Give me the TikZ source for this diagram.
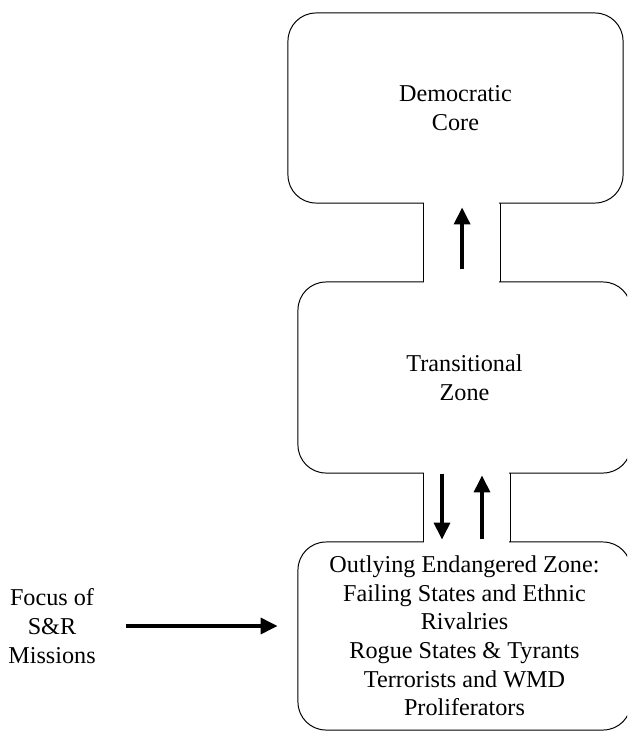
\documentclass[tikz,border=0pt]{standalone}
\usepackage{fontspec}
\setmainfont{Liberation Serif}
\usetikzlibrary{arrows.meta}

\begin{document}
\begin{tikzpicture}[x=0.025cm,y=-0.025cm,
    every node/.style={font=\fontsize{17.2}{20.4}\selectfont},
    zone/.style={draw,line width=0.7pt,rounded corners=0.7cm,align=center,inner sep=0pt},
    neck/.style={line width=0.7pt,line cap=rect},
    arr/.style={line width=2.3pt,-{Triangle[length=0.42cm,width=0.4cm]}}]
    \clip (0,0) rectangle (627,732);

    \node[zone,minimum width=8.375cm,minimum height=4.75cm] (core) at (455.5,108) {Democratic\\Core};
    \node[zone,minimum width=8.325cm,minimum height=4.775cm] (trans) at (464.5,377.5) {Transitional\\Zone};
    \node[zone,minimum width=8.325cm,minimum height=4.7cm] (outer) at (464.5,636)
        {Outlying Endangered Zone:\\Failing States and Ethnic\\Rivalries\\Rogue States \& Tyrants\\Terrorists and WMD\\Proliferators};
    \node[align=center,inner sep=0pt] (focus) at (52,626) {Focus of\\S\&R\\Missions};

    \fill[white] (424,199) rectangle (499,286);
    \fill[white] (424,469) rectangle (509,546);
    \foreach \x in {423,500}
    \draw[neck] (\x,203) -- (\x,282);
    \foreach \x in {423,510}
    \draw[neck] (\x,473) -- (\x,542);

    \draw[arr,shorten <=0.3cm,shorten >=0.1cm] ([xshift=-0.06cm]trans.north) -- ([xshift=-0.06cm]trans.north |- core.south);
    \draw[arr,shorten >=0.05cm] ([xshift=-0.5625cm]trans.south) -- ([xshift=-0.5625cm]outer.north);
    \draw[arr,shorten <=0.05cm,shorten >=0.05cm] ([xshift=0.4375cm]outer.north) -- ([xshift=0.4375cm]trans.south);
    \draw[arr,shorten <=0.75cm,shorten >=0.5cm] (focus.east) -- (focus.east -| outer.west);

\end{tikzpicture}
\end{document}
